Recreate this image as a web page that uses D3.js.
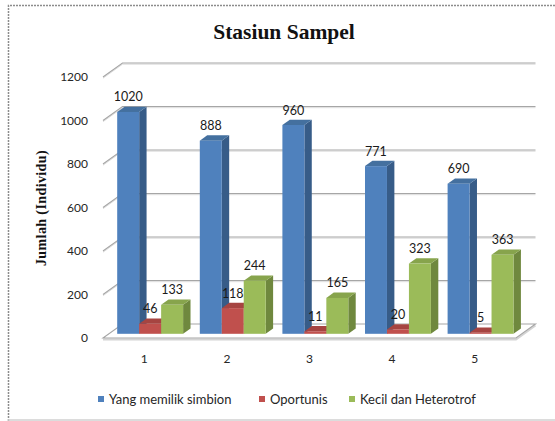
<!DOCTYPE html>
<html>
<head>
<meta charset="utf-8">
<script src="https://cdn.jsdelivr.net/npm/d3@7"></script>
<style>
  html, body { margin: 0; padding: 0; background: #fff; }
  svg { display: block; }
</style>
</head>
<body>
<svg id="chart" width="555" height="421"></svg>
<script>
const categories = ["1", "2", "3", "4", "5"];
const seriesNames = ["Yang memilik simbion", "Oportunis", "Kecil dan Heterotrof"];
const symbion = [1020, 888, 960, 771, 690];
const oportunis = [46, 118, 11, 20, 5];
const heterotrof = [133, 244, 165, 323, 363];
const yTicks = [0, 200, 400, 600, 800, 1000, 1200];
const titleText = "Stasiun Sampel";
const yTitle = "Jumlah (Individu)";

const seriesValues = [symbion, oportunis, heterotrof];
const colors = [
  { front: "#4F81BD", top: "#44709F", side: "#375C88" },
  { front: "#C0504D", top: "#A64441", side: "#8C3A37" },
  { front: "#9BBB59", top: "#87A44C", side: "#6F883E" }
];

const svg = d3.select("#chart");
const FONT = "Lato, 'Open Sans', sans-serif";

// frame
svg.append("path").attr("d", "M8.5,421 V5.5 H555")
  .attr("fill", "none").attr("stroke", "#8c8c8c").attr("stroke-width", 1.5)
  .attr("stroke-dasharray", "2,1");
svg.append("line").attr("x1", 8).attr("x2", 555).attr("y1", 420).attr("y2", 420)
  .attr("stroke", "#d0d0d0").attr("stroke-width", 1.5);

// geometry
const DX = 19.5, DY = -14;   // full floor depth offset
const d0 = 0.3, d1 = 0.68;   // bar depth range

const x = d3.scaleBand().domain(categories).range([103, 516]).padding(0);
const xs = d3.scaleBand().domain(seriesNames).range([0, x.bandwidth()]).paddingInner(0).paddingOuter(0.38);
const y = d3.scaleLinear().domain([0, 1200]).range([338, 77]);

// title
svg.append("text").attr("x", 284).attr("y", 39).attr("text-anchor", "middle")
  .attr("font-family", "'Liberation Serif', 'Times New Roman', serif")
  .attr("font-weight", "bold").attr("font-size", 21.5).attr("fill", "#111")
  .text(titleText);

// y title
svg.append("text")
  .attr("transform", "translate(46,208) rotate(-90)")
  .attr("text-anchor", "middle")
  .attr("font-family", "'Liberation Serif', 'Times New Roman', serif")
  .attr("font-weight", "bold").attr("font-size", 14).attr("letter-spacing", 0.4).attr("fill", "#111")
  .text(yTitle);

// gridlines (side wall diagonal + back wall horizontal)
const x0 = x.range()[0], x1 = x.range()[1];
const grid = svg.append("g");
yTicks.filter(v => v > 0).forEach(v => {
  const yf = y(v), yb = y(v) + DY;
  grid.append("path")
    .attr("d", `M${x0},${yf + 1.2} L${x0 + DX},${yb + 1.2} H${x1 + DX}`)
    .attr("fill", "none").attr("stroke", "#dcdcdc").attr("stroke-width", 1);
  grid.append("path")
    .attr("d", `M${x0},${yf} L${x0 + DX},${yb} H${x1 + DX}`)
    .attr("fill", "none").attr("stroke", "#a6a6a6").attr("stroke-width", 1.1);
});

// floor
const y0 = y(0);
svg.append("path")
  .attr("d", `M${x0},${y0 + 1.5} H${x1} L${x1 + DX},${y0 + DY + 1.5}`)
  .attr("fill", "none").attr("stroke", "#d4d4d4").attr("stroke-width", 2);
svg.append("path")
  .attr("d", `M${x0},${y0} H${x1} L${x1 + DX},${y0 + DY} H${x0 + DX} Z`)
  .attr("fill", "#ffffff").attr("stroke", "#a6a6a6").attr("stroke-width", 1.1);

// bars
const bars = [];
categories.forEach((c, i) => {
  seriesNames.forEach((s, j) => {
    bars.push({ cat: c, ser: j, value: seriesValues[j][i] });
  });
});
const barG = svg.append("g");
const w = xs.bandwidth();
const bx = d => x(d.cat) + xs(seriesNames[d.ser]);
bars.forEach(d => {
  const xl = bx(d) + DX * d0, xr = xl + w;
  const yb = y(0) + DY * d0, yt = y(d.value) + DY * d0;
  const ox = DX * (d1 - d0), oy = DY * (d1 - d0);
  const col = colors[d.ser];
  const g = barG.append("g");
  g.append("path").attr("d", `M${xr},${yb} L${xr + ox},${yb + oy} L${xr + ox},${yt + oy} L${xr},${yt} Z`)
    .attr("fill", col.side);
  g.append("path").attr("d", `M${xl},${yt} L${xl + ox},${yt + oy} L${xr + ox},${yt + oy} L${xr},${yt} Z`)
    .attr("fill", col.top);
  g.append("rect").attr("x", xl).attr("y", yt).attr("width", w).attr("height", Math.max(0, yb - yt))
    .attr("fill", col.front);
});

// data labels
svg.append("g").selectAll("text").data(bars).join("text")
  .attr("x", d => bx(d) + DX * d0 + w / 2)
  .attr("y", d => y(d.value) + DY * d0 - 10.5)
  .attr("text-anchor", "middle")
  .attr("font-family", FONT).attr("font-size", 12.5).attr("fill", "#1a1a1a")
  .text(d => d.value);

// y axis
const yAxis = svg.append("g").attr("transform", "translate(91,0)")
  .call(d3.axisLeft(y).tickValues(yTicks).tickSize(0).tickPadding(3).tickFormat(d3.format("d")));
yAxis.select(".domain").remove();
yAxis.selectAll("text").attr("font-family", FONT).attr("font-size", 12).attr("fill", "#262626");

// x axis
const xAxis = svg.append("g").attr("transform", "translate(0,351)")
  .call(d3.axisBottom(x).tickSize(0).tickPadding(3));
xAxis.select(".domain").remove();
xAxis.selectAll("text").attr("font-family", FONT).attr("font-size", 12).attr("fill", "#262626");

// legend
const legendX = [98, 259, 349];
const legend = svg.append("g");
seriesNames.forEach((s, j) => {
  legend.append("rect").attr("x", legendX[j]).attr("y", 396).attr("width", 6).attr("height", 6)
    .attr("fill", colors[j].front);
  legend.append("text").attr("x", legendX[j] + 11).attr("y", 403.5)
    .attr("font-family", FONT).attr("font-size", 13).attr("fill", "#262626")
    .text(s);
});
</script>
</body>
</html>
